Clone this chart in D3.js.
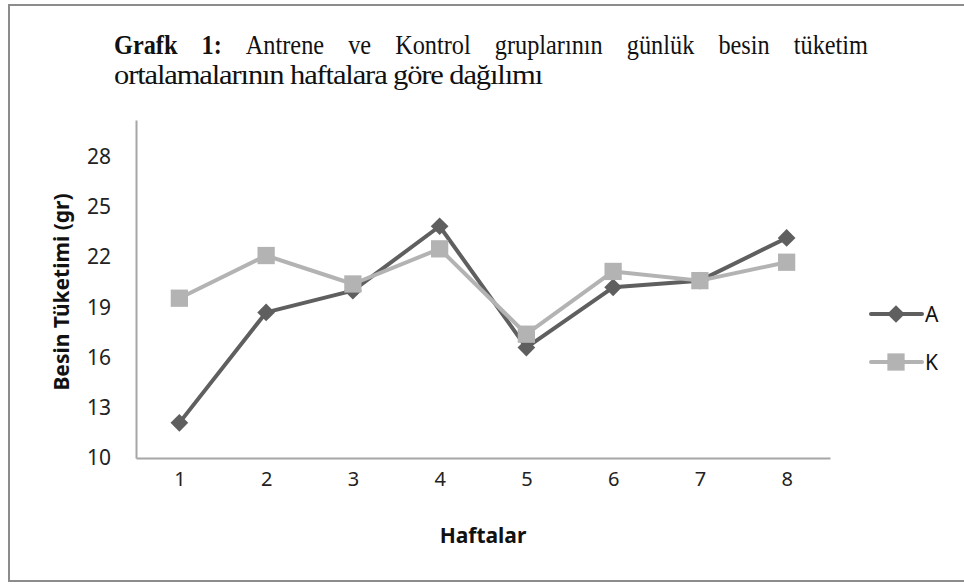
<!DOCTYPE html>
<html>
<head>
<meta charset="utf-8">
<script src="https://cdn.jsdelivr.net/npm/d3@7"></script>
<style>
  body { margin: 0; background: #fff; }
  svg { display: block; }
</style>
</head>
<body>
<div id="chart"></div>
<script>
var weeks = ["1", "2", "3", "4", "5", "6", "7", "8"];
var seriesA = [12.1, 18.7, 20.0, 23.85, 16.6, 20.2, 20.6, 23.15];
var seriesK = [19.55, 22.1, 20.4, 22.5, 17.4, 21.15, 20.6, 21.7];
var yTicks = [10, 13, 16, 19, 22, 25, 28];
var titleLine1 = ["Grafk", "1:", "Antrene", "ve", "Kontrol", "gruplarının", "günlük", "besin", "tüketim"];
var titleLine2 = "ortalamalarının haftalara göre dağılımı";

var width = 964, height = 584;
var margin = {top: 120, right: 134, bottom: 126, left: 136};

var svg = d3.select("#chart").append("svg")
  .attr("width", width)
  .attr("height", height);

// outer frame
svg.append("rect")
  .attr("x", 9).attr("y", 5)
  .attr("width", 1000).attr("height", 576)
  .attr("fill", "none")
  .attr("stroke", "#8c8c8c")
  .attr("stroke-width", 2);

// title: first line is justified, words spread between 114 and 868
var serif = "'Liberation Serif', 'Times New Roman', serif";
var t1 = svg.append("g").attr("class", "title");
var words = t1.selectAll("text")
  .data(titleLine1)
  .enter().append("text")
  .attr("y", 54)
  .style("font-family", serif)
  .style("font-size", "27px")
  .style("font-weight", function(d, i) { return i < 2 ? "bold" : "normal"; })
  .style("fill", "#111")
  .text(function(d) { return d; });

var squeeze = 0.9;
var lens = [];
words.each(function() { lens.push(this.getComputedTextLength() * squeeze); });
var total = d3.sum(lens);
var gap = (868 - 114 - total) / (lens.length - 1);
var cx = 114;
words.each(function(d, i) {
  d3.select(this)
    .attr("x", cx)
    .attr("textLength", lens[i])
    .attr("lengthAdjust", "spacingAndGlyphs");
  cx += lens[i] + gap;
});

svg.append("text")
  .attr("x", 114).attr("y", 84)
  .attr("textLength", 428)
  .attr("lengthAdjust", "spacingAndGlyphs")
  .style("font-family", serif)
  .style("font-size", "27px")
  .style("letter-spacing", "-1px")
  .style("fill", "#111")
  .text(titleLine2);

var plotW = 830 - margin.left, plotH = 458 - margin.top;
var g = svg.append("g")
  .attr("transform", "translate(" + margin.left + "," + margin.top + ")");

var x = d3.scalePoint().domain(weeks).range([0, plotW]).padding(0.5);
var y = d3.scaleLinear().domain([10, 30.2]).range([plotH, 0]);

var tickFont = "'Noto Sans', 'Open Sans', sans-serif";

// axes
var yAxis = g.append("g").attr("class", "y axis")
  .call(d3.axisLeft(y).tickValues(yTicks).tickSize(0).tickPadding(25));
var xAxis = g.append("g").attr("class", "x axis")
  .attr("transform", "translate(0," + plotH + ")")
  .call(d3.axisBottom(x).tickSize(0).tickPadding(12));

[yAxis, xAxis].forEach(function(a) {
  a.select(".domain").attr("stroke", "#a6a6a6").attr("stroke-width", 2);
  a.selectAll("text")
    .style("font-family", tickFont)
    .style("font-size", "21px")
    .style("fill", "#222");
});
xAxis.selectAll("text").attr("dy", "0.8em").style("font-size", "20px");

// axis titles
svg.append("text")
  .attr("transform", "translate(69,292) rotate(-90)")
  .attr("text-anchor", "middle")
  .style("font-family", tickFont)
  .style("font-size", "21px")
  .style("font-weight", "bold")
  .style("fill", "#111")
  .text("Besin Tüketimi (gr)");
svg.append("text")
  .attr("x", 483).attr("y", 543)
  .attr("text-anchor", "middle")
  .style("font-family", tickFont)
  .style("font-size", "21px")
  .style("font-weight", "bold")
  .style("fill", "#111")
  .text("Haftalar");

var colA = "#5f5f5f", colK = "#b3b3b3";

var line = d3.line()
  .x(function(d, i) { return x(weeks[i]); })
  .y(function(d) { return y(d); });

var diamond = d3.symbol().type(d3.symbolDiamond2).size(200);
var square = d3.symbol().type(d3.symbolSquare2).size(380);

function drawSeries(data, color, sym, cls) {
  g.append("path")
    .datum(data)
    .attr("class", "line " + cls)
    .attr("fill", "none")
    .attr("stroke", color)
    .attr("stroke-width", 4)
    .attr("stroke-linejoin", "round")
    .attr("d", line);
  g.selectAll(".pt-" + cls)
    .data(data)
    .enter().append("path")
    .attr("class", "pt-" + cls)
    .attr("transform", function(d, i) { return "translate(" + x(weeks[i]) + "," + y(d) + ")"; })
    .attr("d", sym)
    .attr("fill", color);
}
drawSeries(seriesA, colA, diamond, "a");
drawSeries(seriesK, colK, square, "k");

// legend
var legend = svg.append("g").attr("class", "legend");
[["A", colA, diamond, 314], ["K", colK, square, 362]].forEach(function(l) {
  var lg = legend.append("g").attr("transform", "translate(0," + l[3] + ")");
  lg.append("line")
    .attr("x1", 871).attr("x2", 922)
    .attr("stroke", l[1]).attr("stroke-width", 4).attr("stroke-linecap", "round");
  lg.append("path")
    .attr("transform", "translate(896,0)")
    .attr("d", l[2]).attr("fill", l[1]);
  lg.append("text")
    .attr("x", 925).attr("y", 8)
    .style("font-family", tickFont)
    .style("font-size", "21px")
    .style("fill", "#111")
    .text(l[0]);
});
</script>
</body>
</html>
